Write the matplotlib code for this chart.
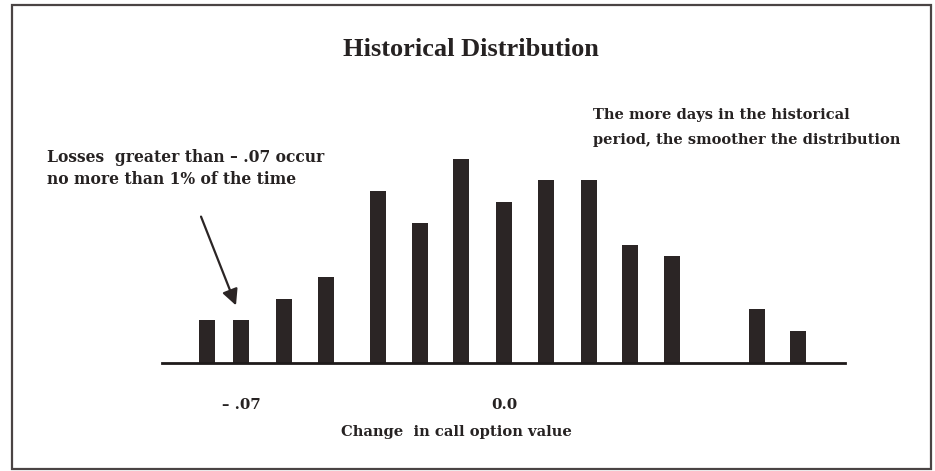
import matplotlib
matplotlib.use("Agg")
import matplotlib.pyplot as plt
from matplotlib.patches import Rectangle, FancyArrowPatch

# Data: change in call option value (bin centers) and relative frequency
changes = [-0.079, -0.070, -0.0586, -0.0474, -0.0335, -0.0224, -0.0114,
           0.0, 0.0112, 0.0226, 0.0335, 0.0447, 0.0673, 0.0782]
frequency = [10, 10, 15, 20, 40, 32.5, 47.5, 37.5, 42.5, 42.5, 27.5, 25, 12.5, 7.5]
tick_values = [-0.07, 0.0]
tick_labels = ["\u2013 .07", "0.0"]

title = "Historical Distribution"
xlabel = "Change  in call option value"
note_left = "Losses  greater than \u2013 .07 occur\nno more than 1% of the time"
note_right = "The more days in the historical\nperiod, the smoother the distribution"

W, H = 935, 471
fig = plt.figure(figsize=(W / 100, H / 100), dpi=100)
fig.patch.set_facecolor("white")

title_family = ["Liberation Serif", "DejaVu Serif"]
family = ["DejaVu Serif"]
txt = "#262222"

ax = fig.add_axes([162 / W, 1 - 363 / H, (845 - 162) / W, 223 / H])
ax.bar(changes, frequency, width=0.0042, color="#2b2525", edgecolor="none")
ax.set_xlim(-0.091, 0.0908)
ax.set_ylim(0, 223 / 4.3)
for s in ["top", "right", "left"]:
    ax.spines[s].set_visible(False)
ax.spines["bottom"].set_linewidth(2.0)
ax.spines["bottom"].set_color("#1e1a1a")
ax.set_yticks([])
ax.set_xticks(tick_values)
ax.set_xticklabels(tick_labels, fontfamily=family, fontweight="bold",
                   fontsize=10.8, color=txt)
ax.tick_params(axis="x", length=0, pad=25)
ax.set_facecolor("none")

fig.text(471 / W, 1 - 50 / H, title, ha="center", va="center",
         fontfamily=title_family, fontweight="bold", fontsize=19, color=txt)
fig.text(456 / W, 1 - 432 / H, xlabel, ha="center", va="center",
         fontfamily=family, fontweight="bold", fontsize=10.6, color=txt)
fig.text(47 / W, 1 - 168.5 / H, note_left, ha="left", va="center",
         fontfamily=family, fontweight="bold", fontsize=11.2, color=txt,
         linespacing=1.45)
fig.text(593 / W, 1 - 127.5 / H, note_right, ha="left", va="center",
         fontfamily=family, fontweight="bold", fontsize=10.5, color=txt,
         linespacing=1.95)

fig.add_artist(FancyArrowPatch(
    (200 / W, 1 - 214 / H), (237 / W, 1 - 308 / H),
    transform=fig.transFigure, arrowstyle="-|>,head_length=6,head_width=3",
    color="#2b2525", linewidth=1.6, mutation_scale=1.6))

fig.add_artist(Rectangle((12 / W, 1 - 469 / H), (931 - 12) / W, (469 - 5) / H,
                         transform=fig.transFigure, fill=False,
                         edgecolor="#4a4444", linewidth=1.6))

fig.savefig("out.png", dpi=100, facecolor="white")
